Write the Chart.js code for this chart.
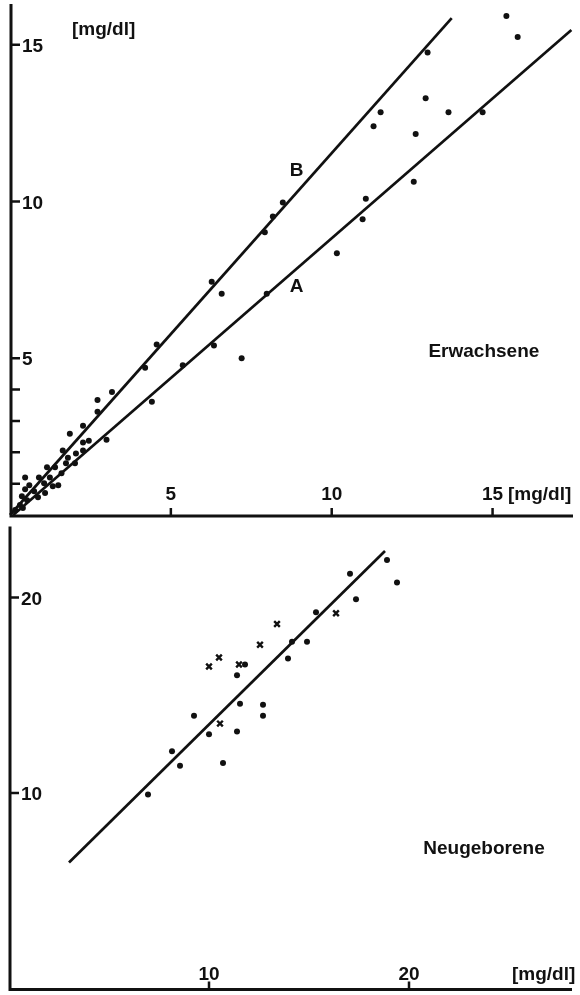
<!DOCTYPE html>
<html>
<head>
<meta charset="utf-8">
<script src="https://cdn.jsdelivr.net/npm/chart.js@4.4.1/dist/chart.umd.min.js"></script>
<style>
  html, body { margin: 0; padding: 0; background: #fff; }
  #wrap { position: relative; width: 580px; height: 995px; overflow: hidden; }
  canvas { position: absolute; left: 0; }
  #adult { top: 0; }
  #newborn { top: 520px; }
</style>
</head>
<body>
<div id="wrap">
  <canvas id="adult" width="580" height="520"></canvas>
  <canvas id="newborn" width="580" height="475"></canvas>
</div>
<script>
// Erwachsene: measured pairs (x, y in mg/dl)
const adultX = [15.43, 15.78, 12.98, 12.92, 11.52, 13.63, 14.69, 12.61, 12.55, 11.3,
  8.48, 8.17, 7.92, 11.06, 10.96, 10.16, 6.27, 6.58, 7.98, 4.56, 6.34, 5.37, 7.2, 4.2,
  3.17, 4.41, 2.72, 2.72, 3.0, 2.27, 1.86, 2.27, 2.45, 1.64, 2.05, 1.8, 2.27,
  1.15, 1.4, 1.74, 1.6, 2.02, 0.9, 1.24, 1.5, 1.33, 1.06, 0.47, 0.47, 0.6,
  0.75, 0.37, 0.87, 1.09, 0.53, 0.31, 0.4, 0.16]
const adultY = [15.92, 15.25, 14.75, 13.29, 12.85, 12.85, 12.85, 12.15, 10.63, 12.4,
  9.97, 9.52, 9.02, 10.09, 9.43, 8.35, 7.44, 7.06, 7.06, 5.44, 5.41, 4.78, 5.0, 4.7,
  3.92, 3.61, 3.67, 3.29, 2.4, 2.85, 2.59, 2.31, 2.37, 2.06, 1.96, 1.83, 2.06,
  1.52, 1.52, 1.65, 1.33, 1.65, 1.2, 1.2, 0.95, 0.92, 1.01, 1.2, 0.82, 0.95,
  0.76, 0.6, 0.57, 0.7, 0.47, 0.32, 0.22, 0.16]

// regression lines A and B (end points)
const lineAX = [0.1, 17.45]
const lineAY = [0, 15.47]
const lineBX = [0, 13.73]
const lineBY = [0, 15.85]

// Neugeborene: dots and crosses
const newbornDotX = [18.9, 19.4, 17.05, 17.35, 15.35, 14.9, 14.15, 13.95, 11.8, 11.4,
  11.55, 12.7, 12.7, 9.25, 10.0, 11.4, 8.15, 8.55, 10.7, 6.95]
const newbornDotY = [21.91, 20.76, 21.21, 19.9, 19.24, 17.73, 17.73, 16.88, 16.57, 16.02,
  14.56, 14.51, 13.95, 13.95, 13.0, 13.15, 12.14, 11.39, 11.54, 9.92]
const newbornCrossX = [10.0, 10.5, 11.5, 12.55, 13.4, 16.35, 10.55]
const newbornCrossY = [16.47, 16.93, 16.57, 17.58, 18.64, 19.19, 13.55]
const newbornLineX = [3.0, 18.8]
const newbornLineY = [6.45, 22.37]

// axis ticks
const adultTicks = [5, 10, 15]
const adultMinorY = [1, 2, 3, 4]
const newbornTicks = [10, 20]
const unitLabel = "[mg/dl]"

const INK = "#111"
const FONT = "bold 19px 'Liberation Sans', Arial, sans-serif"

const pairs = (xs, ys) => xs.map((x, i) => ({ x, y: ys[i] }))

const lineSet = (xs, ys) => ({
  data: pairs(xs, ys),
  showLine: true,
  borderColor: INK,
  borderWidth: 2.7,
  pointRadius: 0,
  clip: false
})

// draws the inward ticks, axis lines and the lettering of the figure
const axesPlugin = {
  id: "axes",
  afterDraw(chart, args, opts) {
    const { ctx, chartArea: area, scales: { x, y } } = chart
    const ax = area.left + 1
    const ay = area.bottom + 1
    ctx.save()
    ctx.strokeStyle = INK
    ctx.fillStyle = INK
    ctx.lineWidth = 3
    ctx.beginPath()
    ctx.moveTo(ax, area.top)
    ctx.lineTo(ax, ay)
    ctx.lineTo(area.right, ay)
    ctx.stroke()

    ctx.lineWidth = 2.5
    ctx.beginPath()
    opts.yTicks.concat(opts.yMinor || []).forEach(v => {
      const py = y.getPixelForValue(v)
      ctx.moveTo(ax, py)
      ctx.lineTo(ax + 9, py)
    })
    opts.xTicks.forEach(v => {
      const px = x.getPixelForValue(v)
      ctx.moveTo(px, ay)
      ctx.lineTo(px, ay - 8)
    })
    ctx.stroke()

    ctx.font = FONT
    ctx.textBaseline = "middle"
    ctx.textAlign = "left"
    opts.yTicks.forEach(v => ctx.fillText(String(v), ax + 11, y.getPixelForValue(v) + 2))
    ctx.textAlign = "center"
    opts.xTicks.forEach(v => ctx.fillText(String(v), x.getPixelForValue(v), ay - opts.xLabelGap))

    ctx.textAlign = "left"
    ctx.fillText(unitLabel, opts.xUnit[0], ay - opts.xLabelGap)
    if (opts.yUnit) ctx.fillText(unitLabel, opts.yUnit[0], opts.yUnit[1])

    ctx.textAlign = "center"
    opts.notes.forEach(n => ctx.fillText(n.text, x.getPixelForValue(n.x), y.getPixelForValue(n.y)))
    ctx.restore()
  }
}

const baseOptions = (xMax, yMax, padding, axes) => ({
  responsive: false,
  animation: false,
  devicePixelRatio: 1,
  layout: { padding },
  scales: {
    x: { type: "linear", min: 0, max: xMax, display: false },
    y: { type: "linear", min: 0, max: yMax, display: false }
  },
  plugins: { legend: { display: false }, tooltip: { enabled: false }, axes }
})

new Chart(document.getElementById("adult"), {
  type: "scatter",
  data: {
    datasets: [
      lineSet(lineBX, lineBY),
      lineSet(lineAX, lineAY),
      {
        data: pairs(adultX, adultY),
        pointRadius: 3,
        pointBackgroundColor: INK,
        pointBorderWidth: 0
      }
    ]
  },
  options: baseOptions(17.5, 16.3, { left: 10, top: 0, right: 7, bottom: 5 }, {
    xTicks: adultTicks,
    yTicks: adultTicks,
    yMinor: adultMinorY,
    xLabelGap: 21,
    xUnit: [508],
    yUnit: [72, 30],
    notes: [
      { text: "B", x: 8.91, y: 10.98 },
      { text: "A", x: 8.91, y: 7.28 },
      { text: "Erwachsene", x: 14.73, y: 5.22 }
    ]
  }),
  plugins: [axesPlugin]
})

new Chart(document.getElementById("newborn"), {
  type: "scatter",
  data: {
    datasets: [
      lineSet(newbornLineX, newbornLineY),
      {
        data: pairs(newbornDotX, newbornDotY),
        pointRadius: 3,
        pointBackgroundColor: INK,
        pointBorderWidth: 0
      },
      {
        data: pairs(newbornCrossX, newbornCrossY),
        pointStyle: "crossRot",
        pointRadius: 4,
        pointBorderColor: INK,
        pointBorderWidth: 2.4
      }
    ]
  },
  options: baseOptions(28.15, 23.63, { left: 9, top: 5, right: 8, bottom: 1 }, {
    xTicks: newbornTicks,
    yTicks: newbornTicks,
    xLabelGap: 15,
    xUnit: [512],
    notes: [
      { text: "Neugeborene", x: 23.75, y: 7.15 }
    ]
  }),
  plugins: [axesPlugin]
})
</script>
</body>
</html>
